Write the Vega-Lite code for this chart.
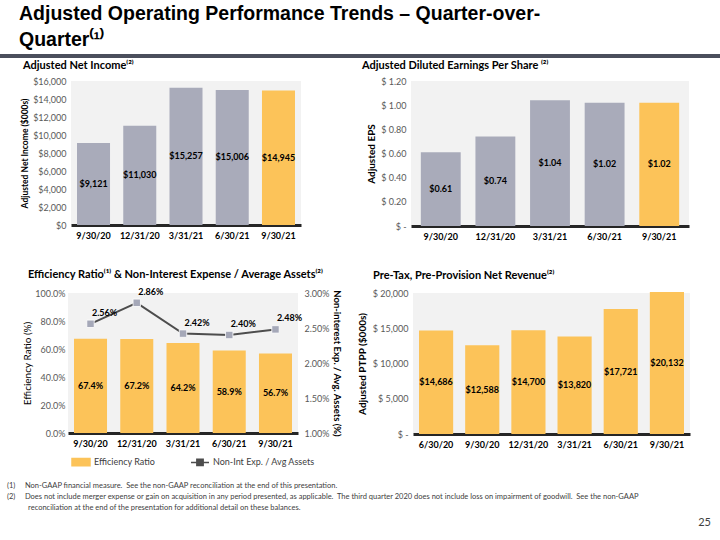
{
  "$schema": "https://vega.github.io/schema/vega-lite/v6.json",
  "padding": {"left": 0, "top": 3, "right": 0, "bottom": 0},
  "background": "white",
  "config": {
    "font": "Lato",
    "view": {"fill": "#f2f2f2", "stroke": null},
    "title": {"font": "Lato", "fontSize": 11, "fontWeight": "bold", "color": "#000000", "anchor": "start", "frame": "group", "offset": 8},
    "axis": {"grid": false, "ticks": false, "labelFont": "Lato", "titleFont": "Lato", "labelOverlap": false},
    "axisX": {"domainColor": "#262626", "domainWidth": 3, "labelFontWeight": "bold", "labelFontSize": 9, "labelColor": "#000000", "labelAngle": 0, "labelPadding": 6, "title": null},
    "axisY": {"domain": false, "labelFontSize": 9, "labelColor": "#595959", "labelPadding": 5, "titleFontSize": 10, "titleColor": "#000000", "titleFontWeight": "bold"},
    "text": {"font": "Lato", "fontWeight": "bold", "fontSize": 9, "color": "#000000"}
  },
  "spacing": 27,
  "vconcat": [
    {
      "spacing": 2,
      "vconcat": [
        {
          "width": 720,
          "height": 4,
          "view": {"fill": "#4b4f5c", "stroke": null},
          "title": {
            "text": ["Adjusted Operating Performance Trends – Quarter-over-", "Quarter⁽¹⁾"],
            "font": "Liberation Sans",
            "fontSize": 19.5,
            "lineHeight": 26,
            "fontWeight": "bold",
            "color": "#000000",
            "dx": 19,
            "offset": 4
          },
          "data": {"values": [{}]},
          "mark": {"type": "rect", "color": "#4b4f5c"},
          "encoding": {}
        },
        {
          "spacing": 0,
          "hconcat": [
            {
              "width": 20,
              "height": 1,
              "view": {"fill": null, "stroke": null},
              "data": {"values": []},
              "mark": "text",
              "encoding": {}
            },
            {
              "spacing": 61,
              "hconcat": [
                {
                  "width": 230,
                  "height": 144,
                  "title": {"text": "Adjusted Net Income⁽²⁾", "dx": -48, "offset": 6},
                  "data": {"values": [
                    {"quarter": "9/30/20", "income": 9121, "latest": "no"},
                    {"quarter": "12/31/20", "income": 11030, "latest": "no"},
                    {"quarter": "3/31/21", "income": 15257, "latest": "no"},
                    {"quarter": "6/30/21", "income": 15006, "latest": "no"},
                    {"quarter": "9/30/21", "income": 14945, "latest": "yes"}
                  ]},
                  "encoding": {
                    "x": {"field": "quarter", "type": "nominal", "sort": null, "scale": {"paddingInner": 0.286, "paddingOuter": 0.13}}
                  },
                  "layer": [
                    {
                      "mark": {"type": "bar"},
                      "encoding": {
                        "y": {"field": "income", "type": "quantitative", "scale": {"domain": [0, 16000]}, "title": "Adjusted Net Income ($000s)", "axis": {"values": [0, 2000, 4000, 6000, 8000, 10000, 12000, 14000, 16000], "labelOverlap": false, "format": "$,.0f", "titleFontSize": 8.5, "titlePadding": 3}},
                        "color": {"condition": {"test": "datum.latest == 'yes'", "value": "#fcc359"}, "value": "#a9abba"}
                      }
                    },
                    {
                      "transform": [{"calculate": "datum.income / 2", "as": "mid"}],
                      "mark": {"type": "text", "baseline": "middle"},
                      "encoding": {
                        "y": {"field": "mid", "type": "quantitative", "scale": {"domain": [0, 16000]}, "axis": null},
                        "text": {"field": "income", "type": "quantitative", "format": "$,.0f"}
                      }
                    }
                  ],
                  "resolve": {"scale": {"y": "independent"}}
                },
                {
                  "width": 278,
                  "height": 145,
                  "title": {"text": "Adjusted Diluted Earnings Per Share ⁽²⁾", "dx": -49, "offset": 6},
                  "data": {"values": [
                    {"quarter": "9/30/20", "eps": 0.61, "latest": "no"},
                    {"quarter": "12/31/20", "eps": 0.74, "latest": "no"},
                    {"quarter": "3/31/21", "eps": 1.04, "latest": "no"},
                    {"quarter": "6/30/21", "eps": 1.02, "latest": "no"},
                    {"quarter": "9/30/21", "eps": 1.02, "latest": "yes"}
                  ]},
                  "encoding": {
                    "x": {"field": "quarter", "type": "nominal", "sort": null, "scale": {"paddingInner": 0.27, "paddingOuter": 0.18}}
                  },
                  "layer": [
                    {
                      "mark": {"type": "bar"},
                      "encoding": {
                        "y": {"field": "eps", "type": "quantitative", "scale": {"domain": [0, 1.2]}, "title": "Adjusted EPS", "axis": {"values": [0, 0.2, 0.4, 0.6, 0.8, 1.0, 1.2], "labelOverlap": false, "labelExpr": "datum.value == 0 ? '$ -' : '$ ' + format(datum.value, '.2f')", "titlePadding": 4}},
                        "color": {"condition": {"test": "datum.latest == 'yes'", "value": "#fcc359"}, "value": "#a9abba"}
                      }
                    },
                    {
                      "transform": [{"calculate": "datum.eps / 2", "as": "mid"}],
                      "mark": {"type": "text", "baseline": "middle"},
                      "encoding": {
                        "y": {"field": "mid", "type": "quantitative", "scale": {"domain": [0, 1.2]}, "axis": null},
                        "text": {"field": "eps", "type": "quantitative", "format": "$.2f"}
                      }
                    }
                  ],
                  "resolve": {"scale": {"y": "independent"}}
                }
              ]
            }
          ]
        }
      ]
    },
    {
      "spacing": 12,
      "vconcat": [
        {
          "spacing": 0,
          "hconcat": [
            {
              "width": 22,
              "height": 1,
              "view": {"fill": null, "stroke": null},
              "data": {"values": []},
              "mark": "text",
              "encoding": {}
            },
            {
              "spacing": 15,
              "resolve": {"scale": {"color": "independent"}, "legend": {"color": "independent"}},
              "hconcat": [
                {
                  "width": 230,
                  "height": 140,
                  "title": {"text": "Efficiency Ratio⁽¹⁾ & Non-Interest Expense / Average Assets⁽²⁾", "dx": -40, "offset": 8},
                  "data": {"values": [
                    {"quarter": "9/30/20", "efficiency": 0.674, "nonint": 0.0256, "bar_series": "Efficiency Ratio", "line_series": "Non-Int Exp. / Avg Assets"},
                    {"quarter": "12/31/20", "efficiency": 0.672, "nonint": 0.0286, "bar_series": "Efficiency Ratio", "line_series": "Non-Int Exp. / Avg Assets"},
                    {"quarter": "3/31/21", "efficiency": 0.642, "nonint": 0.0242, "bar_series": "Efficiency Ratio", "line_series": "Non-Int Exp. / Avg Assets"},
                    {"quarter": "6/30/21", "efficiency": 0.589, "nonint": 0.0240, "bar_series": "Efficiency Ratio", "line_series": "Non-Int Exp. / Avg Assets"},
                    {"quarter": "9/30/21", "efficiency": 0.567, "nonint": 0.0248, "bar_series": "Efficiency Ratio", "line_series": "Non-Int Exp. / Avg Assets"}
                  ]},
                  "encoding": {
                    "x": {"field": "quarter", "type": "nominal", "sort": null, "scale": {"paddingInner": 0.286, "paddingOuter": 0.13}}
                  },
                  "layer": [
                    {
                      "mark": {"type": "bar"},
                      "encoding": {
                        "y": {"field": "efficiency", "type": "quantitative", "scale": {"domain": [0, 1]}, "title": "Efficiency Ratio (%)", "axis": {"values": [0, 0.2, 0.4, 0.6, 0.8, 1.0], "labelOverlap": false, "format": ".1%", "titleFontWeight": "normal", "titlePadding": 2, "labelPadding": 3}},
                        "color": {"field": "bar_series", "type": "nominal", "scale": {"domain": ["Efficiency Ratio", "Non-Int Exp. / Avg Assets"], "range": ["#fcc359", "#4d4d4d"]}, "legend": {"orient": "none", "legendX": 3, "legendY": 159, "direction": "horizontal", "title": null, "padding": 0, "labelFontSize": 9, "labelColor": "#404040", "labelFont": "Lato", "labelOffset": 3, "columnPadding": 32, "symbolSize": 324, "symbolStrokeWidth": 1.5, "encode": {"symbols": {"update": {"shape": {"signal": "datum.value == 'Efficiency Ratio' ? 'M-1,-0.4H1V0.4H-1Z' : 'M-1,0H-0.35M0.35,0H1M-0.35,-0.35H0.35V0.35H-0.35Z'"}, "fill": {"signal": "datum.value == 'Efficiency Ratio' ? '#fcc359' : '#a5a8b8'"}, "stroke": {"signal": "datum.value == 'Efficiency Ratio' ? 'transparent' : '#4d4d4d'"}, "opacity": {"value": 1}}}}}}
                      }
                    },
                    {
                      "transform": [{"calculate": "datum.efficiency / 2", "as": "mid"}],
                      "mark": {"type": "text", "baseline": "middle"},
                      "encoding": {
                        "y": {"field": "mid", "type": "quantitative", "scale": {"domain": [0, 1]}, "axis": null},
                        "text": {"field": "efficiency", "type": "quantitative", "format": ".1%"}
                      }
                    },
                    {
                      "mark": {"type": "line", "strokeWidth": 2},
                      "encoding": {
                        "y": {"field": "nonint", "type": "quantitative", "scale": {"domain": [0.01, 0.03]}, "title": "Non-interest Exp. / Avg. Assets (%)", "axis": {"orient": "right", "values": [0.01, 0.015, 0.02, 0.025, 0.03], "labelOverlap": false, "format": ".2%", "labelPadding": 6, "titlePadding": 3, "titleFontSize": 9.5}},
                        "color": {"field": "line_series", "type": "nominal"}
                      }
                    },
                    {
                      "mark": {"type": "point", "shape": "square", "filled": true, "size": 55, "color": "#a5a8b8", "stroke": "#ffffff", "strokeWidth": 0.8, "opacity": 1},
                      "encoding": {
                        "y": {"field": "nonint", "type": "quantitative", "scale": {"domain": [0.01, 0.03]}, "axis": null}
                      }
                    },
                    {
                      "mark": {"type": "text", "dx": 14, "dy": -11},
                      "encoding": {
                        "y": {"field": "nonint", "type": "quantitative", "scale": {"domain": [0.01, 0.03]}, "axis": null},
                        "text": {"field": "nonint", "type": "quantitative", "format": ".2%"}
                      }
                    }
                  ],
                  "resolve": {"scale": {"y": "independent"}}
                },
                {
                  "width": 277,
                  "height": 141,
                  "title": {"text": "Pre-Tax, Pre-Provision Net Revenue⁽²⁾", "dx": -40, "offset": 8},
                  "data": {"values": [
                    {"quarter": "6/30/20", "ptpp": 14686},
                    {"quarter": "9/30/20", "ptpp": 12588},
                    {"quarter": "12/31/20", "ptpp": 14700},
                    {"quarter": "3/31/21", "ptpp": 13820},
                    {"quarter": "6/30/21", "ptpp": 17721},
                    {"quarter": "9/30/21", "ptpp": 20132}
                  ]},
                  "encoding": {
                    "x": {"field": "quarter", "type": "nominal", "sort": null, "scale": {"paddingInner": 0.26, "paddingOuter": 0.13}}
                  },
                  "layer": [
                    {
                      "mark": {"type": "bar", "color": "#fcc359", "clip": false},
                      "encoding": {
                        "y": {"field": "ptpp", "type": "quantitative", "scale": {"domain": [0, 20000]}, "title": "Adjusted PTPP ($000s)", "axis": {"values": [0, 5000, 10000, 15000, 20000], "labelOverlap": false, "labelExpr": "datum.value == 0 ? '$ -' : '$ ' + format(datum.value, ',')", "titlePadding": 5}}
                      }
                    },
                    {
                      "transform": [{"calculate": "datum.ptpp / 2", "as": "mid"}],
                      "mark": {"type": "text", "baseline": "middle"},
                      "encoding": {
                        "y": {"field": "mid", "type": "quantitative", "scale": {"domain": [0, 20000]}, "axis": null},
                        "text": {"field": "ptpp", "type": "quantitative", "format": "$,.0f"}
                      }
                    }
                  ],
                  "resolve": {"scale": {"y": "independent"}}
                }
              ]
            }
          ]
        },
        {
          "width": 720,
          "height": 18,
          "view": {"fill": null, "stroke": null},
          "title": {
            "text": ["(1)\u00a0\u00a0\u00a0\u00a0\u00a0Non-GAAP financial measure.\u00a0 See the non-GAAP reconciliation at the end of this presentation.", "(2)\u00a0\u00a0\u00a0\u00a0\u00a0Does not include merger expense or gain on acquisition in any period presented, as applicable.\u00a0 The third quarter 2020 does not include loss on impairment of goodwill.\u00a0 See the non-GAAP", "\u200b\u00a0\u00a0\u00a0\u00a0\u00a0\u00a0\u00a0\u00a0\u00a0\u00a0\u00a0reconciliation at the end of the presentation for additional detail on these balances."],
            "anchor": "start",
            "dx": 7,
            "offset": 3,
            "fontSize": 7.5,
            "fontWeight": "normal",
            "color": "#404040",
            "lineHeight": 11
          },
          "data": {"values": [{"page": "25"}]},
          "mark": {"type": "text", "align": "right", "baseline": "middle", "dx": -9, "fontWeight": "normal", "fontSize": 11, "color": "#404040"},
          "encoding": {
            "x": {"datum": 1, "type": "quantitative", "scale": {"domain": [0, 1]}, "axis": null},
            "text": {"field": "page"}
          }
        }
      ]
    }
  ]
}
